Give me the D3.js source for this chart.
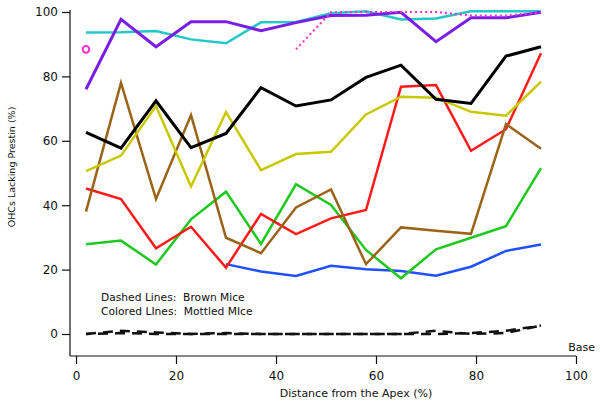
<!DOCTYPE html>
<html><head><meta charset="utf-8">
<script src="https://cdn.jsdelivr.net/npm/d3@7"></script>
<style>
body{margin:0;background:#fff;}
text{font-family:"DejaVu Sans",sans-serif;fill:#111;}
</style></head>
<body><svg id="c" width="600" height="403"></svg>
<script>
const positions = [2, 9, 16, 23, 30, 37, 44, 51, 58, 65, 72, 79, 86, 93];
const cyanVals   = [93.6, 93.7, 94.1, 91.5, 90.3, 96.8, 96.9, 99.6, 100.2, 97.7, 98.0, 100.2, 100.2, 100.2];
const purpleVals = [76.0, 97.7, 89.2, 97.0, 97.0, 94.2, 96.7, 98.9, 99.0, 99.9, 90.8, 98.2, 98.2, 99.9];
const magentaVals= [88.4, null, null, null, null, null, 88.4, 99.9, 100, 100, 100, 98.9, 98.9, 99.9];
const blackVals  = [62.6, 57.7, 72.4, 57.9, 62.3, 76.5, 70.8, 72.7, 79.7, 83.5, 72.9, 71.6, 86.3, 89.2];
const yellowVals = [50.6, 55.4, 70.8, 45.8, 68.9, 50.9, 55.9, 56.6, 68.2, 73.7, 73.4, 69.0, 67.8, 78.4];
const brownVals  = [38.0, 78.0, 41.9, 68.0, 29.9, 25.1, 39.3, 44.9, 21.7, 33.1, 32.1, 31.1, 65.2, 57.5];
const redVals    = [45.2, 41.9, 26.6, 33.3, 20.6, 37.3, 31.0, 35.9, 38.5, 76.8, 77.3, 56.9, 63.6, 87.2];
const greenVals  = [27.9, 29.0, 21.6, 35.6, 44.2, 28.0, 46.5, 40.1, 26.1, 17.3, 26.3, 29.9, 33.5, 51.5];
const blueVals   = [null, null, null, null, 21.7, 19.4, 18.0, 21.2, 20.1, 19.6, 18.1, 20.9, 25.8, 27.8];
const dashedA    = [0, 1.0, 0.5, 0, 0.3, 0, 0, 0, 0, 0, 1.0, 0, 0.3, 2.6];
const dashedB    = [0, 0.3, 0, 0, 0, 0, 0, 0, 0, 0, 0, 0.3, 1.0, 2.6];
const xTicks = [0, 20, 40, 60, 80, 100];
const yTicks = [0, 20, 40, 60, 80, 100];

const svg = d3.select("#c");
const x = d3.scaleLinear().domain([0, 100]).range([76, 576]);
const y = d3.scaleLinear().domain([0, 100]).range([334, 12]);
const axX = 70, axY = 356;

// axes
const gy = svg.append("g").attr("transform", `translate(${axX},0)`)
  .call(d3.axisLeft(y).tickValues(yTicks).tickSize(8).tickPadding(4).tickSizeOuter(0));
gy.select(".domain").remove();
gy.selectAll("line").attr("stroke", "#111").attr("stroke-width", 1.2);
gy.selectAll("text").style("font-size", "12px").style("font-family", "DejaVu Sans");
svg.append("line").attr("x1", axX).attr("x2", axX).attr("y1", 10).attr("y2", axY)
  .attr("stroke", "#111").attr("stroke-width", 1.2);

const gx = svg.append("g").attr("transform", `translate(0,${axY})`)
  .call(d3.axisBottom(x).tickValues(xTicks).tickSize(8).tickPadding(7).tickSizeOuter(0));
gx.select(".domain").remove();
gx.selectAll("line").attr("stroke", "#111").attr("stroke-width", 1.2);
gx.selectAll("text").style("font-size", "12px").style("font-family", "DejaVu Sans");
svg.append("line").attr("x1", axX).attr("x2", x(100)).attr("y1", axY).attr("y2", axY)
  .attr("stroke", "#111").attr("stroke-width", 1.2);

// lines
const line = d3.line().defined(d => d[1] != null).x(d => x(d[0])).y(d => y(d[1]));
function draw(vals, color, w, dash, off) {
  const p = svg.append("path").datum(positions.map((px, i) => [px, vals[i]]))
    .attr("d", line).attr("fill", "none").attr("stroke", color)
    .attr("stroke-width", w).attr("stroke-linejoin", "miter");
  if (dash) p.attr("stroke-dasharray", dash).attr("stroke-dashoffset", off || 0);
  return p;
}
draw(dashedA, "#111", 2.5, "10,7", 0);
draw(dashedB, "#111", 2.5, "10,7", 5);
draw(blueVals, "#1e50ff", 2.5);
draw(greenVals, "#1ec81e", 2.5);
draw(redVals, "#ff1a1a", 2.5);
draw(brownVals, "#9a6418", 2.5);
draw(yellowVals, "#c8c800", 2.5);
draw(blackVals, "#000", 3);
draw(cyanVals, "#22c8c8", 2.5);
draw(purpleVals, "#7a1ee6", 3);
draw(magentaVals, "#ff33cc", 2.2, "2,3", 0);
// isolated magenta point
svg.append("circle").attr("cx", x(positions[0])).attr("cy", y(magentaVals[0])).attr("r", 3.3)
  .attr("fill", "#fff").attr("stroke", "#ff33cc").attr("stroke-width", 2);

// texts
svg.append("text").attr("x", 356).attr("y", 397).attr("text-anchor", "middle")
  .style("font-size", "11px").text("Distance from the Apex (%)");
svg.append("text").attr("transform", "translate(15,167) rotate(-90)").attr("text-anchor", "middle")
  .style("font-size", "9.5px").text("OHCs Lacking Prestin (%)");
svg.append("text").attr("x", 101).attr("y", 301).style("font-size", "10.7px").style("white-space", "pre")
  .text("Dashed Lines:  Brown Mice");
svg.append("text").attr("x", 101).attr("y", 315).style("font-size", "10.7px").style("white-space", "pre")
  .text("Colored LInes:  Mottled MIce");
svg.append("text").attr("x", 595).attr("y", 351).attr("text-anchor", "end")
  .style("font-size", "11px").text("Base");
</script></body></html>
